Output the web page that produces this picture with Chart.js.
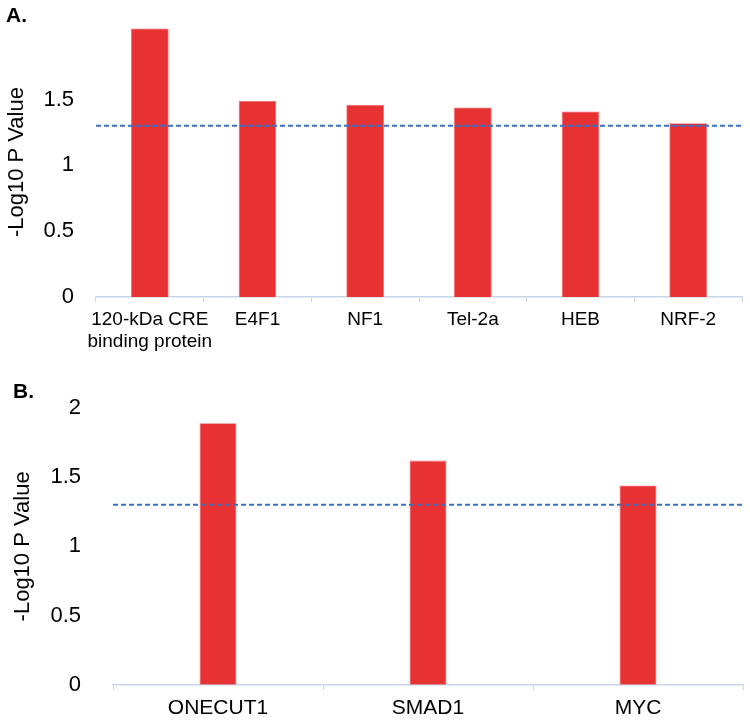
<!DOCTYPE html>
<html>
<head>
<meta charset="utf-8">
<script src="https://cdn.jsdelivr.net/npm/chart.js@4.4.0/dist/chart.umd.min.js"></script>
<style>
  body { margin: 0; background: #fff; }
  #wrap { position: relative; width: 750px; height: 722px; }
  .box { position: absolute; left: 0; width: 750px; }
  .tag { position: absolute; font-family: "Liberation Sans", Arial, sans-serif; font-weight: bold; font-size: 21px; color: #000; }
</style>
</head>
<body>
<div id="wrap">
  <div class="box" style="top:0;height:362px"><canvas id="chartA"></canvas></div>
  <div class="box" style="top:362px;height:360px"><canvas id="chartB"></canvas></div>
  <div class="tag" style="left:6px;top:3px">A.</div>
  <div class="tag" style="left:13px;top:379px">B.</div>
</div>
<script>
// panel A
const labelsA = [['120-kDa CRE', 'binding protein'], 'E4F1', 'NF1', 'Tel-2a', 'HEB', 'NRF-2'];
const valuesA = [2.04, 1.49, 1.46, 1.44, 1.41, 1.32];
const ticksA = [0, 0.5, 1, 1.5];

// panel B
const labelsB = ['ONECUT1', 'SMAD1', 'MYC'];
const valuesB = [1.89, 1.62, 1.44];
const ticksB = [0, 0.5, 1, 1.5, 2];

const cutoff = 1.301; // -log10(0.05)

const fontName = '"Liberation Sans", Arial, sans-serif';
const barRed = '#e83132';
const axisCol = '#c9d5e6';

// dashed threshold line across the plot
const cutoffLine = {
    id: 'cutoffLine',
    afterDatasetsDraw(chart) {
        const y = chart.scales.y.getPixelForValue(cutoff);
        const ctx = chart.ctx;
        ctx.save();
        ctx.strokeStyle = '#3a6fc4';
        ctx.lineWidth = 2;
        ctx.setLineDash([5, 3]);
        ctx.beginPath();
        ctx.moveTo(chart.chartArea.left, y);
        ctx.lineTo(chart.chartArea.right, y);
        ctx.stroke();
        ctx.restore();
    }
};

const makeChart = (id, labels, values, tickVals, opts) => {
    return new Chart(document.getElementById(id), {
        type: 'bar',
        data: {
            labels: labels,
            datasets: [{
                data: values,
                backgroundColor: barRed,
                borderColor: '#f06a6a',
                borderWidth: 0.8,
                categoryPercentage: 1,
                barPercentage: opts.barPct
            }]
        },
        options: {
            responsive: true,
            maintainAspectRatio: false,
            animation: false,
            layout: { padding: { top: opts.top, right: opts.right, left: 0, bottom: 0 } },
            plugins: { legend: { display: false }, tooltip: { enabled: false } },
            scales: {
                x: {
                    afterFit: (s) => { s.height = opts.xh; },
                    grid: { display: true, drawOnChartArea: false, drawTicks: true, tickLength: 5, color: axisCol, offset: true },
                    border: { color: axisCol, width: 1.5 },
                    ticks: { color: '#000', padding: 6, maxRotation: 0, autoSkip: false, font: { family: fontName, size: opts.xFont } }
                },
                y: {
                    min: 0,
                    max: opts.max,
                    afterFit: (s) => { s.width = opts.yw; },
                    afterBuildTicks: (s) => { s.ticks = tickVals.map(v => ({ value: v })); },
                    grid: { display: false },
                    border: { display: false },
                    ticks: {
                        color: '#000',
                        padding: opts.tickPad,
                        font: { family: fontName, size: 22 },
                        callback: (v) => `${v}`
                    },
                    title: {
                        display: true,
                        text: '-Log10 P Value',
                        color: '#000',
                        padding: { top: opts.titlePad, bottom: 0 },
                        font: { family: fontName, size: 22 }
                    }
                }
            }
        },
        plugins: [cutoffLine]
    });
};

makeChart('chartA', labelsA, valuesA, ticksA, { top: 23, right: 8, max: 2.05, xh: 65, yw: 96, tickPad: 14, titlePad: 4, barPct: 0.35, xFont: 19 });
makeChart('chartB', labelsB, valuesB, ticksB, { top: 46, right: 7, max: 2, xh: 33, yw: 113, tickPad: 24, titlePad: 10, barPct: 0.176, xFont: 21 });
</script>
</body>
</html>
